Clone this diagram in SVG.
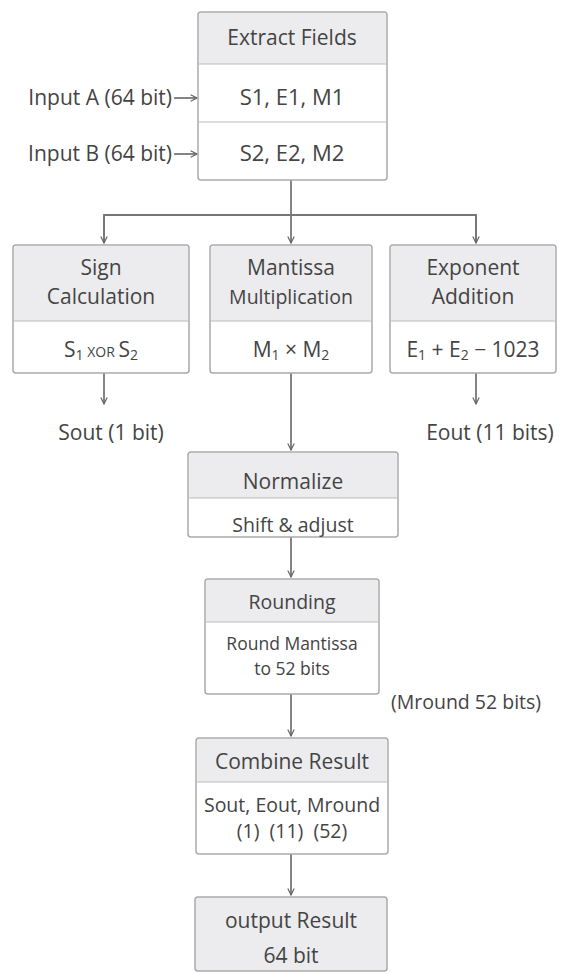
<svg xmlns="http://www.w3.org/2000/svg" width="565" height="974" viewBox="0 0 565 974">
<defs>
<marker id="arr" viewBox="0 0 10 10" refX="9" refY="5" markerWidth="8" markerHeight="8" orient="auto" markerUnits="userSpaceOnUse">
<path d="M1,1 L9,5 L1,9" fill="none" stroke="#666" stroke-width="1.5"/>
</marker>
</defs>
<style>
.box{fill:#fff;stroke:#aaa;stroke-width:1.5}
.hdr{fill:#ececee;stroke:none}
.div{stroke:#bbb;stroke-width:1.2}
text{font-family:"Open Sans","Liberation Sans",sans-serif;fill:#444;text-anchor:middle}
.t{font-size:21px}
.b{font-size:22px}
.m{font-size:19.5px}
.r{font-size:17.5px}
.sub{font-size:14px}
.c{fill:none;stroke:#777;stroke-width:1.8}
.ca{fill:none;stroke:#777;stroke-width:1.8;marker-end:url(#arr)}
</style>
<rect width="565" height="974" fill="#fff"/>

<g id="connectors">
<line class="ca" x1="174" y1="98" x2="197" y2="98"/>
<line class="ca" x1="174" y1="154" x2="197" y2="154"/>
<line class="c" x1="291" y1="180" x2="291" y2="215"/>
<polyline class="c" points="104,242 104,215 476,215 476,242"/>
<line class="ca" x1="104" y1="216" x2="104" y2="243"/>
<line class="ca" x1="291" y1="215" x2="291" y2="243"/>
<line class="ca" x1="476" y1="216" x2="476" y2="243"/>
<line class="ca" x1="104" y1="373" x2="104" y2="404"/>
<line class="ca" x1="476" y1="373" x2="476" y2="404"/>
<line class="ca" x1="291" y1="373" x2="291" y2="450"/>
<line class="ca" x1="291" y1="537" x2="291" y2="577"/>
<line class="ca" x1="291" y1="694" x2="291" y2="736"/>
<line class="ca" x1="291" y1="854" x2="291" y2="895"/>
</g>

<g id="input-a"><text class="t" x="172" y="105" style="text-anchor:end">Input A (64 bit)</text></g>
<g id="input-b"><text class="t" x="172" y="161" style="text-anchor:end">Input B (64 bit)</text></g>

<g id="extract">
<rect class="box" x="198" y="12" width="189" height="168" rx="3"/>
<rect class="hdr" x="199" y="13" width="187" height="51" rx="2"/>
<line class="div" x1="198" y1="64" x2="387" y2="64"/>
<line class="div" x1="198" y1="122" x2="387" y2="122"/>
<text class="t" x="292" y="45">Extract Fields</text>
<text class="b" x="292" y="105">S1, E1, M1</text>
<text class="b" x="292" y="161">S2, E2, M2</text>
</g>

<g id="sign">
<rect class="box" x="13" y="245" width="176" height="128" rx="3"/>
<rect class="hdr" x="14" y="246" width="174" height="75" rx="2"/>
<line class="div" x1="13" y1="321" x2="189" y2="321"/>
<text class="t" x="101" y="275">Sign</text>
<text class="t" x="101" y="304">Calculation</text>
<text class="t" x="101" y="357">S<tspan class="sub" dy="3">1</tspan><tspan class="sub" dy="-3"> XOR </tspan>S<tspan class="sub" dy="3">2</tspan></text>
</g>

<g id="mantissa">
<rect class="box" x="210" y="245" width="162" height="128" rx="3"/>
<rect class="hdr" x="211" y="246" width="160" height="75" rx="2"/>
<line class="div" x1="210" y1="321" x2="372" y2="321"/>
<text class="t" x="291" y="275">Mantissa</text>
<text class="m" x="291" y="304">Multiplication</text>
<text class="t" x="291" y="357">M<tspan class="sub" dy="3">1</tspan><tspan dy="-3"> × M</tspan><tspan class="sub" dy="3">2</tspan></text>
</g>

<g id="exponent">
<rect class="box" x="390" y="245" width="166" height="128" rx="3"/>
<rect class="hdr" x="391" y="246" width="164" height="75" rx="2"/>
<line class="div" x1="390" y1="321" x2="556" y2="321"/>
<text class="t" x="473" y="275">Exponent</text>
<text class="t" x="473" y="304">Addition</text>
<text class="t" x="473" y="357">E<tspan class="sub" dy="3">1</tspan><tspan dy="-3"> + E</tspan><tspan class="sub" dy="3">2</tspan><tspan dy="-3"> − 1023</tspan></text>
</g>

<g id="sout"><text class="t" x="111" y="440">Sout (1 bit)</text></g>
<g id="eout"><text class="t" x="490" y="440">Eout (11 bits)</text></g>

<g id="normalize">
<rect class="box" x="188" y="452" width="210" height="85" rx="3"/>
<rect class="hdr" x="189" y="453" width="208" height="45" rx="2"/>
<line class="div" x1="188" y1="498" x2="398" y2="498"/>
<text class="t" x="293" y="489">Normalize</text>
<text class="m" x="293" y="532">Shift &amp; adjust</text>
</g>

<g id="rounding">
<rect class="box" x="205" y="579" width="174" height="115" rx="3"/>
<rect class="hdr" x="206" y="580" width="172" height="42" rx="2"/>
<line class="div" x1="205" y1="622" x2="379" y2="622"/>
<text class="m" x="292" y="609">Rounding</text>
<text class="r" x="292" y="650">Round Mantissa</text>
<text class="r" x="292" y="675">to 52 bits</text>
</g>

<g id="mround"><text class="m" x="466" y="709">(Mround 52 bits)</text></g>

<g id="combine">
<rect class="box" x="196" y="738" width="192" height="116" rx="3"/>
<rect class="hdr" x="197" y="739" width="190" height="43" rx="2"/>
<line class="div" x1="196" y1="782" x2="388" y2="782"/>
<text class="t" x="292" y="769">Combine Result</text>
<text class="m" x="292" y="812">Sout, Eout, Mround</text>
<text class="m" x="292" y="838" xml:space="preserve">(1)  (11)  (52)</text>
</g>

<g id="output">
<rect class="box" x="195" y="897" width="192" height="74" rx="3" style="fill:#ececee"/>
<text class="t" x="291" y="928">output Result</text>
<text class="t" x="291" y="963">64 bit</text>
</g>
</svg>
